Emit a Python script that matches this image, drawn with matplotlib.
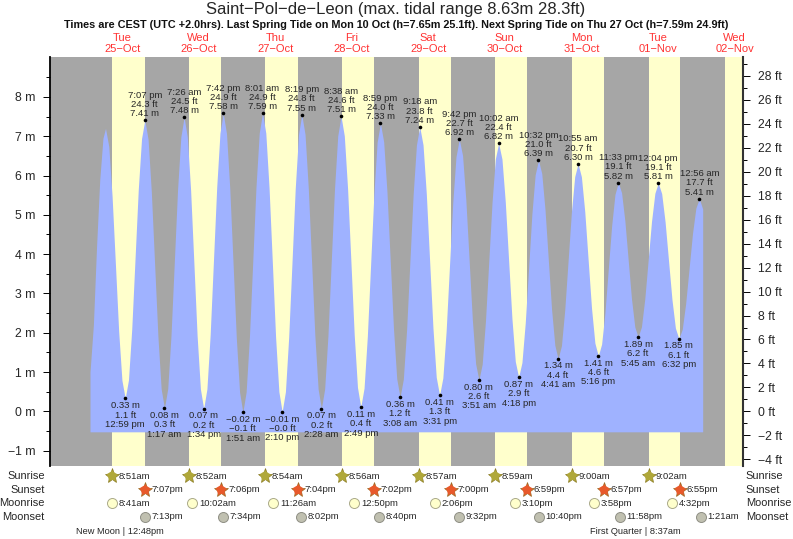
import matplotlib
matplotlib.use('Agg')
import matplotlib.pyplot as plt

plt.rcParams['font.family'] = ['Liberation Sans', 'DejaVu Sans']

# hours since 25 Oct 00:00, heights in metres
tide_hours = [1.94, 3.0, 4.0, 5.0, 6.0, 6.8,
              7.83, 8.86, 9.89, 10.92, 11.95, 12.98,
              14.0, 15.03, 16.05, 17.07, 18.1, 19.12,
              20.15, 21.17, 22.2, 23.23, 24.25, 25.28,
              26.31, 27.33, 28.36, 29.38, 30.41, 31.43,
              32.45, 33.48, 34.5, 35.52, 36.55, 37.57,
              38.59, 39.61, 40.64, 41.66, 42.68, 43.7,
              44.73, 45.75, 46.78, 47.8, 48.83, 49.85,
              50.88, 51.91, 52.94, 53.96, 54.99, 56.02,
              57.05, 58.07, 59.1, 60.12, 61.15, 62.17,
              63.2, 64.22, 65.25, 66.27, 67.3, 68.32,
              69.35, 70.37, 71.4, 72.42, 73.45, 74.47,
              75.5, 76.53, 77.55, 78.58, 79.6, 80.63,
              81.66, 82.69, 83.73, 84.76, 85.79, 86.82,
              87.85, 88.88, 89.9, 90.93, 91.95, 92.98,
              94.0, 95.03, 96.05, 97.08, 98.1, 99.13,
              100.16, 101.19, 102.21, 103.24, 104.27, 105.3,
              106.34, 107.37, 108.41, 109.45, 110.48, 111.52,
              112.55, 113.58, 114.61, 115.64, 116.67, 117.7,
              118.73, 119.75, 120.78, 121.8, 122.83, 123.85,
              124.88, 125.91, 126.94, 127.97, 129.0, 130.03,
              131.08, 132.12, 133.17, 134.21, 135.26, 136.3,
              137.34, 138.38, 139.42, 140.45, 141.49, 142.53,
              143.56, 144.58, 145.61, 146.63, 147.66, 148.68,
              149.72, 150.76, 151.8, 152.84, 153.88, 154.92,
              155.98, 157.04, 158.1, 159.15, 160.21, 161.27,
              162.32, 163.36, 164.41, 165.46, 166.5, 167.55,
              168.58, 169.62, 170.65, 171.68, 172.72, 173.75,
              174.8, 175.86, 176.91, 177.96, 179.02, 180.07,
              181.15, 182.22, 183.3, 184.38, 185.45, 186.53,
              187.6, 188.66, 189.73, 190.8, 191.86, 192.93,
              194.0]
tide_heights = [1.0, 2.2, 4.2, 5.9, 6.95, 7.2,
                6.74, 5.48, 3.77, 2.05, 0.79, 0.33,
                0.8, 2.1, 3.87, 5.64, 6.94, 7.41,
                6.92, 5.58, 3.74, 1.91, 0.57, 0.08,
                0.58, 1.93, 3.78, 5.63, 6.98, 7.48,
                6.98, 5.63, 3.78, 1.92, 0.57, 0.07,
                0.57, 1.95, 3.83, 5.7, 7.08, 7.58,
                7.07, 5.68, 3.78, 1.88, 0.49, -0.02,
                0.49, 1.88, 3.78, 5.69, 7.08, 7.59,
                7.08, 5.69, 3.79, 1.89, 0.5, -0.01,
                0.5, 1.88, 3.77, 5.66, 7.04, 7.55,
                7.05, 5.68, 3.81, 1.94, 0.57, 0.07,
                0.57, 1.93, 3.79, 5.65, 7.01, 7.51,
                7.01, 5.66, 3.81, 1.96, 0.61, 0.11,
                0.59, 1.91, 3.72, 5.53, 6.85, 7.33,
                6.86, 5.59, 3.84, 2.1, 0.83, 0.36,
                0.82, 2.08, 3.8, 5.52, 6.78, 7.24,
                6.78, 5.53, 3.82, 2.12, 0.87, 0.41,
                0.85, 2.04, 3.67, 5.29, 6.48, 6.92,
                6.51, 5.39, 3.86, 2.33, 1.21, 0.8,
                1.2, 2.3, 3.81, 5.32, 6.42, 6.82,
                6.42, 5.33, 3.84, 2.36, 1.27, 0.87,
                1.24, 2.25, 3.63, 5.01, 6.02, 6.39,
                6.05, 5.13, 3.86, 2.6, 1.68, 1.34,
                1.67, 2.58, 3.82, 5.06, 5.97, 6.3,
                5.97, 5.08, 3.85, 2.63, 1.74, 1.41,
                1.71, 2.51, 3.62, 4.72, 5.52, 5.82,
                5.56, 4.84, 3.85, 2.87, 2.15, 1.89,
                2.15, 2.87, 3.85, 4.83, 5.55, 5.81,
                5.54, 4.82, 3.83, 2.84, 2.12, 1.85,
                2.09, 2.74, 3.63, 4.52, 5.17, 5.41,
                5.15]

high_hours = [19.12, 31.43, 43.7, 56.02, 68.32, 80.63, 92.98, 105.3, 117.7, 130.03, 142.53, 154.92, 167.55, 180.07, 192.93]
high_m = ['7.41', '7.48', '7.58', '7.59', '7.55', '7.51', '7.33', '7.24', '6.92', '6.82', '6.39', '6.30', '5.82', '5.81', '5.41']
high_ft = ['24.3', '24.5', '24.9', '24.9', '24.8', '24.6', '24.0', '23.8', '22.7', '22.4', '21.0', '20.7', '19.1', '19.1', '17.7']
high_times = ['7:07 pm', '7:26 am', '7:42 pm', '8:01 am', '8:19 pm', '8:38 am', '8:59 pm', '9:18 am', '9:42 pm', '10:02 am',
              '10:32 pm', '10:55 am', '11:33 pm', '12:04 pm', '12:56 am']

low_hours = [12.98, 25.28, 37.57, 49.85, 62.17, 74.47, 86.82, 99.13, 111.52, 123.85, 136.3, 148.68, 161.27, 173.75, 186.53]
low_m = ['0.33', '0.08', '0.07', '\u22120.02', '\u22120.01', '0.07', '0.11', '0.36', '0.41', '0.80', '0.87', '1.34', '1.41', '1.89', '1.85']
low_ft = ['1.1', '0.3', '0.2', '\u22120.1', '\u22120.0', '0.2', '0.4', '1.2', '1.3', '2.6', '2.9', '4.4', '4.6', '6.2', '6.1']
low_times = ['12:59 pm', '1:17 am', '1:34 pm', '1:51 am', '2:10 pm', '2:28 am', '2:49 pm', '3:08 am', '3:31 pm', '3:51 am',
             '4:18 pm', '4:41 am', '5:16 pm', '5:45 am', '6:32 pm']

day_names = ['Tue', 'Wed', 'Thu', 'Fri', 'Sat', 'Sun', 'Mon', 'Tue', 'Wed']
day_dates = ['25\u2212Oct', '26\u2212Oct', '27\u2212Oct', '28\u2212Oct', '29\u2212Oct', '30\u2212Oct', '31\u2212Oct', '01\u2212Nov', '02\u2212Nov']
day_noons = [12, 36, 60, 84, 108, 132, 156, 180, 204]

sunrise_hours = [8.85, 32.87, 56.9, 80.93, 104.95, 128.98, 153.0, 177.03, 201.05]
sunrise_labels = ['8:51am', '8:52am', '8:54am', '8:56am', '8:57am', '8:59am', '9:00am', '9:02am']
sunset_hours = [19.12, 43.1, 67.07, 91.03, 115.0, 138.98, 162.95, 186.92]
sunset_labels = ['7:07pm', '7:06pm', '7:04pm', '7:02pm', '7:00pm', '6:59pm', '6:57pm', '6:55pm']
moonrise_hours = [8.68, 34.03, 59.43, 84.83, 110.1, 135.17, 159.97, 184.53]
moonrise_labels = ['8:41am', '10:02am', '11:26am', '12:50pm', '2:06pm', '3:10pm', '3:58pm', '4:32pm']
moonset_hours = [19.22, 43.57, 68.03, 92.67, 117.53, 142.67, 167.97, 193.35]
moonset_labels = ['7:13pm', '7:34pm', '8:02pm', '8:40pm', '9:32pm', '10:40pm', '11:58pm', '1:21am']

m_ticks = [-1, 0, 1, 2, 3, 4, 5, 6, 7, 8]
ft_ticks = [-4, -2, 0, 2, 4, 6, 8, 10, 12, 14, 16, 18, 20, 22, 24, 26, 28]

W, H = 793, 539
x_min, x_max = -10.6, 206.64
y_min, y_max = -1.382, 9.015
blue = '#9fb2ff'
grey = '#a6a6a6'
yellow = '#ffffcc'
dark = '#262626'

fig = plt.figure(figsize=(W / 100, H / 100), dpi=100)
ax = fig.add_axes([50 / W, 1 - 465.7 / H, 693 / W, 408.7 / H])
ax.set_xlim(x_min, x_max)
ax.set_ylim(y_min, y_max)
ax.set_facecolor(grey)

# daylight bands, the last one runs off the end of the axis
for start, end in zip(sunrise_hours, sunset_hours + [x_max]):
    ax.axvspan(start, end, color=yellow, lw=0, zorder=1)

ax.fill_between(tide_hours, -0.52, tide_heights, color=blue, lw=0, zorder=2)

ax.plot(high_hours, [float(v) for v in high_m], 'o', color='black', ms=2.6, mew=0, zorder=3)
low_values = [float(v.replace('\u2212', '-')) for v in low_m]
ax.plot(low_hours, low_values, 'o', color='black', ms=2.6, mew=0, zorder=3)

for i in range(len(high_hours)):
    ax.annotate(high_times[i] + '\n' + high_ft[i] + ' ft\n' + high_m[i] + ' m',
                (high_hours[i], float(high_m[i])), xytext=(0, 1.5), textcoords='offset points',
                ha='center', va='bottom', fontsize=6.8, linespacing=1.02, color=dark, zorder=4,
                annotation_clip=False)
for i in range(len(low_hours)):
    ax.annotate(low_m[i] + ' m\n' + low_ft[i] + ' ft\n' + low_times[i],
                (low_hours[i], low_values[i]), xytext=(0, -2), textcoords='offset points',
                ha='center', va='top', fontsize=6.8, linespacing=1.05, color=dark, zorder=4,
                annotation_clip=False)

# axes
for side in ['top', 'bottom']:
    ax.spines[side].set_visible(False)
ax.spines['right'].set_visible(False)
ax.spines['left'].set_linewidth(1.3)
ax.spines['left'].set_color('black')
ax.set_xticks([])
ax.set_yticks(m_ticks)
ax.set_yticklabels(['\u22121 m'] + [str(v) + ' m' for v in m_ticks[1:]])
ax.set_yticks([v + 0.5 for v in range(-1, 9)], minor=True)
ax.tick_params(axis='y', which='major', length=5, width=0.7, labelsize=8.8, pad=5.5, labelcolor=dark)
ax.tick_params(axis='y', which='minor', length=3, width=0.7)

ax2 = ax.twinx()
ax2.set_xlim(x_min, x_max)
ax2.set_ylim(y_min * 3.28084, y_max * 3.28084)
for side in ['top', 'bottom', 'left']:
    ax2.spines[side].set_visible(False)
ax2.spines['right'].set_linewidth(1.5)
ax2.spines['right'].set_color('#333333')
ax2.set_yticks(ft_ticks)
ax2.set_yticklabels(['\u22124 ft', '\u22122 ft'] + [str(v) + ' ft' for v in ft_ticks[2:]])
ax2.set_yticks([v + 1 for v in range(-4, 29, 2)], minor=True)
ax2.tick_params(axis='y', which='major', length=5, width=0.7, labelsize=8.8, pad=6, labelcolor=dark)
ax2.tick_params(axis='y', which='minor', length=3, width=0.7)

# header
fig.text(396 / W, 1 - 9.5 / H, 'Saint\u2212Pol\u2212de\u2212Leon (max. tidal range 8.63m 28.3ft)',
         ha='center', va='center', fontsize=12.0, color=dark)
fig.text(396 / W, 1 - 25 / H,
         'Times are CEST (UTC +2.0hrs). Last Spring Tide on Mon 10 Oct (h=7.65m 25.1ft). '
         'Next Spring Tide on Thu 27 Oct (h=7.59m 24.9ft)',
         ha='center', va='center', fontsize=7.85, fontweight='bold', color='#111111')
for noon, name, date in zip(day_noons, day_names, day_dates):
    ax.annotate(name + '\n' + date, (noon, y_max), xytext=(0, 2.5), textcoords='offset points',
                ha='center', va='bottom', fontsize=8, linespacing=1.05, color='#ff3333',
                annotation_clip=False)

# sun and moon rows under the axes, y in metres on the left scale
y_sunrise = -1.645
y_sunset = -1.99
y_moonrise = -2.335
y_moonset = -2.68
y_phase = -3.05

ax.plot(sunrise_hours[:8], [y_sunrise] * 8, '*', color='#b0a83a', mec='#8a7a20', mew=0.5, ms=11, clip_on=False, zorder=5)
ax.plot(sunrise_hours[:8], [y_sunrise] * 8, 'p', color='#b0a83a', mew=0, ms=7, clip_on=False, zorder=5)
ax.plot(sunset_hours, [y_sunset] * 8, '*', color='#e8592b', mec='#9a6a20', mew=0.5, ms=11, clip_on=False, zorder=5)
ax.plot(sunset_hours, [y_sunset] * 8, 'p', color='#e8592b', mew=0, ms=7, clip_on=False, zorder=5)
ax.plot(moonrise_hours, [y_moonrise] * 8, 'o', color='#ffffcc', mec='#aaa98a', mew=0.7, ms=7.2, clip_on=False, zorder=5)
ax.plot(moonset_hours, [y_moonset] * 8, 'o', color='#c0c0b0', mec='#8f8f85', mew=0.7, ms=7.2, clip_on=False, zorder=5)

rows = [(sunrise_hours, sunrise_labels, y_sunrise), (sunset_hours, sunset_labels, y_sunset),
        (moonrise_hours, moonrise_labels, y_moonrise), (moonset_hours, moonset_labels, y_moonset)]
for hours, labels, y in rows:
    for hour, label in zip(hours, labels):
        ax.annotate(label, (hour, y), xytext=(4.8, 0), textcoords='offset points', ha='left', va='center',
                    fontsize=6.8, color=dark, annotation_clip=False)

for name, y in zip(['Sunrise', 'Sunset', 'Moonrise', 'Moonset'], [y_sunrise, y_sunset, y_moonrise, y_moonset]):
    ax.annotate(name, (x_min, y), xytext=(-3.8, 0), textcoords='offset points', ha='right', va='center',
                fontsize=7.9, color=dark, annotation_clip=False)
    ax.annotate(name, (x_max, y), xytext=(2.0, 0), textcoords='offset points', ha='left', va='center',
                fontsize=7.9, color=dark, annotation_clip=False)

ax.text(11.3, y_phase, 'New Moon | 12:48pm', ha='center', va='center', fontsize=6.7, color=dark)
ax.text(173.0, y_phase, 'First Quarter | 8:37am', ha='center', va='center', fontsize=6.7, color=dark)

fig.savefig('out.png', dpi=100)
